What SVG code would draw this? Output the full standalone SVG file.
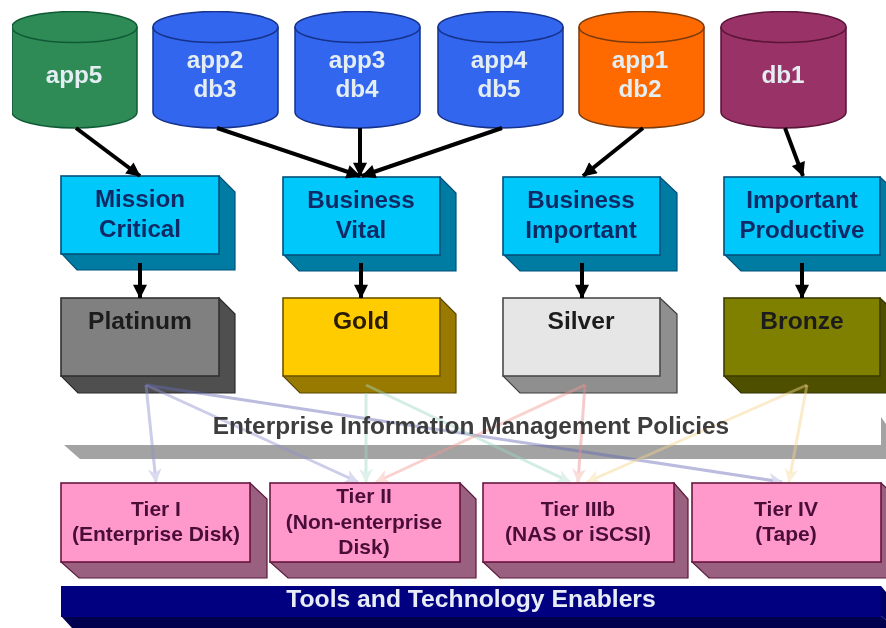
<svg xmlns="http://www.w3.org/2000/svg" width="886" height="628" viewBox="0 0 886 628">
<defs>
<style>
text{font-family:"Liberation Sans",Arial,sans-serif;font-weight:700;text-anchor:middle}
.cyl text{fill:#e4eef2;font-size:24.300px}
.biz text{fill:#0b2c66;font-size:24.200px}
.metal text{font-size:24.600px;fill:#1c1c1c}
.tier text{fill:#4a0e38;font-size:21px}
.front{stroke-width:1.6}
.biz .front{fill:#06c8fb;stroke:#04507a}.biz .s{fill:#007ba3;stroke:#04507a;stroke-width:1.2}
.tier .front{fill:#ff99cc;stroke:#66163f}.tier .s{fill:#99607f;stroke:#5a1a3c;stroke-width:1.2}
.ln{fill:none;stroke:#000;stroke-width:4}
.fa{fill:none;stroke-width:3;opacity:.45}
</style>
<filter id="soft" x="0" y="0" width="100%" height="100%"><feGaussianBlur stdDeviation="0.7"/></filter>
<marker id="ah" viewBox="0 0 10 10" refX="9.500" refY="5" markerWidth="15" markerHeight="14" markerUnits="userSpaceOnUse" orient="auto"><path d="M0 0L10 5L0 10Z" fill="#000"/></marker>
<marker id="fb" viewBox="0 0 10 10" refX="9.500" refY="5" markerWidth="14" markerHeight="14" markerUnits="userSpaceOnUse" orient="auto"><path d="M0 0L10 5L0 10L3 5Z" fill="#aeb0de"/></marker>
<marker id="ft" viewBox="0 0 10 10" refX="9.500" refY="5" markerWidth="14" markerHeight="14" markerUnits="userSpaceOnUse" orient="auto"><path d="M0 0L10 5L0 10L3 5Z" fill="#b5e0d0"/></marker>
<marker id="fr" viewBox="0 0 10 10" refX="9.500" refY="5" markerWidth="14" markerHeight="14" markerUnits="userSpaceOnUse" orient="auto"><path d="M0 0L10 5L0 10L3 5Z" fill="#f6b5ae"/></marker>
<marker id="fy" viewBox="0 0 10 10" refX="9.500" refY="5" markerWidth="14" markerHeight="14" markerUnits="userSpaceOnUse" orient="auto"><path d="M0 0L10 5L0 10L3 5Z" fill="#f6dca0"/></marker>
</defs>
<rect width="886" height="628" fill="#fff"/>
<g filter="url(#soft)">
<g id="band">
<polygon points="64,445 881,445 881,417 886,424 886,459 80,459" fill="#a3a3a3"/>
</g>
<g id="cyl-app5" class="cyl"><path d="M12 27V112A62.500 16 0 0 0 137 112V27A62.500 15.500 0 0 0 12 27Z" fill="#2e8b57" stroke="#0f5a35" stroke-width="1.5"/><path d="M12 27A62.500 15.500 0 0 0 137 27" fill="none" stroke="#0f5a35" stroke-width="1.5"/><text x="74" y="83">app5</text></g>
<g id="cyl-app2" class="cyl"><path d="M153 27V112A62.500 16 0 0 0 278 112V27A62.500 15.500 0 0 0 153 27Z" fill="#3366ee" stroke="#14308a" stroke-width="1.5"/><path d="M153 27A62.500 15.500 0 0 0 278 27" fill="none" stroke="#14308a" stroke-width="1.5"/><text x="215" y="68">app2</text><text x="215" y="97">db3</text></g>
<g id="cyl-app3" class="cyl"><path d="M295 27V112A62.500 16 0 0 0 420 112V27A62.500 15.500 0 0 0 295 27Z" fill="#3366ee" stroke="#14308a" stroke-width="1.5"/><path d="M295 27A62.500 15.500 0 0 0 420 27" fill="none" stroke="#14308a" stroke-width="1.5"/><text x="357" y="68">app3</text><text x="357" y="97">db4</text></g>
<g id="cyl-app4" class="cyl"><path d="M438 27V112A62.500 16 0 0 0 563 112V27A62.500 15.500 0 0 0 438 27Z" fill="#3366ee" stroke="#14308a" stroke-width="1.5"/><path d="M438 27A62.500 15.500 0 0 0 563 27" fill="none" stroke="#14308a" stroke-width="1.5"/><text x="499" y="68">app4</text><text x="499" y="97">db5</text></g>
<g id="cyl-app1" class="cyl"><path d="M579 27V112A62.500 16 0 0 0 704 112V27A62.500 15.500 0 0 0 579 27Z" fill="#ff6a00" stroke="#7a3a10" stroke-width="1.5"/><path d="M579 27A62.500 15.500 0 0 0 704 27" fill="none" stroke="#7a3a10" stroke-width="1.5"/><text x="640" y="68">app1</text><text x="640" y="97">db2</text></g>
<g id="cyl-db1" class="cyl"><path d="M721 27V112A62.500 16 0 0 0 846 112V27A62.500 15.500 0 0 0 721 27Z" fill="#993366" stroke="#5a1238" stroke-width="1.5"/><path d="M721 27A62.500 15.500 0 0 0 846 27" fill="none" stroke="#5a1238" stroke-width="1.5"/><text x="783" y="83">db1</text></g>

<g id="biz-mission" class="biz"><polygon class="s" points="61,253 219,176 235,192 235,270 77,270"/><rect class="front" x="61" y="176" width="158" height="78"/><text x="140" y="207">Mission</text><text x="140" y="237">Critical</text></g>
<g id="biz-vital" class="biz"><polygon class="s" points="283,254 440,177 456,193 456,271 299,271"/><rect class="front" x="283" y="177" width="157" height="78"/><text x="361" y="208">Business</text><text x="361" y="238">Vital</text></g>
<g id="biz-important" class="biz"><polygon class="s" points="503,254 660,177 677,193 677,271 520,271"/><rect class="front" x="503" y="177" width="157" height="78"/><text x="581" y="208">Business</text><text x="581" y="238">Important</text></g>
<g id="biz-productive" class="biz"><polygon class="s" points="724,254 880,177 897,193 897,271 741,271"/><rect class="front" x="724" y="177" width="156" height="78"/><text x="802" y="208">Important</text><text x="802" y="238">Productive</text></g>

<g id="metal-platinum" class="metal"><polygon points="61,376 219,298 235,314 235,393 78,393" fill="#505050" stroke="#2c2c2c" stroke-width="1.2"/><rect class="front" x="61" y="298" width="158" height="78" fill="#808080" stroke="#303030"/><text x="140" y="329">Platinum</text></g>
<g id="metal-gold" class="metal"><polygon points="283,376 440,298 456,314 456,393 300,393" fill="#997a00" stroke="#5a4800" stroke-width="1.2"/><rect class="front" x="283" y="298" width="157" height="78" fill="#ffcc00" stroke="#6b5500"/><text x="361" y="329" style="fill:#2a1a00">Gold</text></g>
<g id="metal-silver" class="metal"><polygon points="503,376 660,298 677,314 677,393 520,393" fill="#8f8f8f" stroke="#3c3c3c" stroke-width="1.2"/><rect class="front" x="503" y="298" width="157" height="78" fill="#e6e6e6" stroke="#4a4a4a"/><text x="581" y="329">Silver</text></g>
<g id="metal-bronze" class="metal"><polygon points="724,376 880,298 897,314 897,393 741,393" fill="#4f4f00" stroke="#333300" stroke-width="1.2"/><rect class="front" x="724" y="298" width="156" height="78" fill="#808000" stroke="#3c3c00"/><text x="802" y="329">Bronze</text></g>

<g id="connectors">
<line class="ln" x1="76" y1="128" x2="140" y2="176" marker-end="url(#ah)"/>
<line class="ln" x1="217" y1="128" x2="360" y2="176" marker-end="url(#ah)"/>
<line class="ln" x1="360" y1="128" x2="360" y2="176" marker-end="url(#ah)"/>
<line class="ln" x1="502" y1="128" x2="362" y2="176" marker-end="url(#ah)"/>
<line class="ln" x1="643" y1="128" x2="583" y2="176" marker-end="url(#ah)"/>
<line class="ln" x1="785" y1="128" x2="803" y2="176" marker-end="url(#ah)"/>
<line class="ln" x1="140" y1="263" x2="140" y2="298" marker-end="url(#ah)"/>
<line class="ln" x1="361" y1="263" x2="361" y2="298" marker-end="url(#ah)"/>
<line class="ln" x1="582" y1="263" x2="582" y2="298" marker-end="url(#ah)"/>
<line class="ln" x1="802" y1="263" x2="802" y2="298" marker-end="url(#ah)"/>
<line class="fa" stroke="#8e90cc" x1="146" y1="385" x2="156" y2="482" marker-end="url(#fb)"/>
<line class="fa" stroke="#8e90cc" x1="146" y1="385" x2="358" y2="482" marker-end="url(#fb)"/>
<line class="fa" stroke="#6468b4" x1="146" y1="385" x2="782" y2="482" marker-end="url(#fb)"/>
<line class="fa" stroke="#a0d8c4" x1="366" y1="393" x2="366" y2="482" marker-end="url(#ft)"/>
<line class="fa" stroke="#a0d8c4" x1="366" y1="385" x2="570" y2="482" marker-end="url(#ft)"/>
<line class="fa" stroke="#f29c94" x1="585" y1="385" x2="376" y2="482" marker-end="url(#fr)"/>
<line class="fa" stroke="#e88c90" x1="585" y1="385" x2="578" y2="482" marker-end="url(#fr)"/>
<line class="fa" stroke="#f4d68c" x1="807" y1="385" x2="587" y2="482" marker-end="url(#fy)"/>
<line class="fa" stroke="#f4d68c" x1="807" y1="385" x2="789" y2="482" marker-end="url(#fy)"/>
</g>

<g id="policies-label"><text x="471" y="434" font-size="24.400" fill="#3c3c3c">Enterprise Information Management Policies</text></g>

<g id="tier-1" class="tier"><polygon class="s" points="61,562 250,483 267,499 267,578 79,578"/><rect class="front" x="61" y="483" width="189" height="79"/><text x="156" y="516">Tier I</text><text x="156" y="541">(Enterprise Disk)</text></g>
<g id="tier-2" class="tier"><polygon class="s" points="270,562 460,483 476,499 476,578 288,578"/><rect class="front" x="270" y="483" width="190" height="79"/><text x="364" y="503">Tier II</text><text x="364" y="529">(Non-enterprise</text><text x="364" y="554">Disk)</text></g>
<g id="tier-3" class="tier"><polygon class="s" points="483,562 674,483 688,499 688,578 500,578"/><rect class="front" x="483" y="483" width="191" height="79"/><text x="578" y="516">Tier IIIb</text><text x="578" y="541">(NAS or iSCSI)</text></g>
<g id="tier-4" class="tier"><polygon class="s" points="692,562 881,483 898,499 898,578 709,578"/><rect class="front" x="692" y="483" width="189" height="79"/><text x="786" y="516">Tier IV</text><text x="786" y="541">(Tape)</text></g>

<g id="tools"><polygon points="61,616 881,616 886,620 886,628 72,628" fill="#000050"/><polygon points="881,586 886,592 886,620 881,616" fill="#000060"/><rect x="61" y="586" width="820" height="31" fill="#000080"/><text x="471" y="607" font-size="24.700" fill="#e8ecf6">Tools and Technology Enablers</text></g>
</g>
</svg>
